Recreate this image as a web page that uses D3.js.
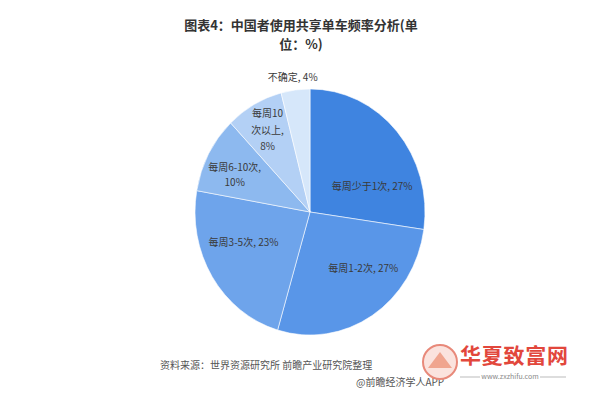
<!DOCTYPE html>
<html><head><meta charset="utf-8">
<script src="https://cdn.jsdelivr.net/npm/d3@7"></script>
<style>body{margin:0;background:#fff}svg{display:block}text{font-family:"Noto Sans CJK SC","Noto Sans",sans-serif}</style>
</head><body>
<svg id="c" width="600" height="400"></svg>
<script>
const categories = ["每周少于1次", "每周1-2次", "每周3-5次", "每周6-10次", "每周10次以上", "不确定"];
const values = [27, 27, 23, 10, 8, 4];
const labelLines = [["每周少于1次, 27%"], ["每周1-2次, 27%"], ["每周3-5次, 23%"], ["每周6-10次,", "10%"], ["每周10", "次以上,", "8%"], ["不确定, 4%"]];
const colors = ["#3f84e0", "#5996e8", "#6ea4eb", "#8db9ef", "#b3d0f5", "#d6e7fa"];
const titleLines = ["图表4：中国者使用共享单车频率分析(单", "位：%)"];
const sourceText = "资料来源：世界资源研究所 前瞻产业研究院整理";
const creditText = "@前瞻经济学人APP";

// layout (fraction along slice, radius fraction)
const labelLayout = [[0.70, 0.58], [0.37, 0.65], [0.6, 0.63], [0.4, 0.72], [0.5, 0.76], [0.46, 1.1]];

const svg = d3.select("#c");
const cx = 310, cy = 212, r = 115, sy = 1.07;

svg.append("g").selectAll("text").data(titleLines).join("text")
  .attr("x", 301).attr("y", (d, i) => 30 + i * 18.5)
  .attr("text-anchor", "middle").attr("font-size", 13).attr("font-weight", "bold")
  .attr("fill", "#333").text(d => d);

const pie = d3.pie().sort(null).value(d => d)(values);
const arc = d3.arc().innerRadius(0).outerRadius(r);

const g = svg.append("g").attr("transform", `translate(${cx},${cy}) scale(1,${sy})`);
g.selectAll("path").data(pie).join("path")
  .attr("d", arc).attr("fill", (d, i) => colors[i])
  .attr("stroke", "#fff").attr("stroke-width", 0.7).attr("stroke-opacity", 0.8);

const lg = svg.append("g").attr("transform", `translate(${cx},${cy})`);
pie.forEach((d, i) => {
  const [f, rf] = labelLayout[i];
  const a = d.startAngle + (d.endAngle - d.startAngle) * f;
  const x = Math.sin(a) * r * rf, y = -Math.cos(a) * r * rf * sy;
  const lines = labelLines[i];
  const lh = lines.length > 2 ? 16.5 : 15;
  lg.append("text").attr("text-anchor", "middle").attr("font-size", 10).attr("fill", "#3a3a3a")
    .selectAll("tspan").data(lines).join("tspan")
    .attr("x", x).attr("y", (t, j) => y + (j - (lines.length - 1) / 2) * lh)
    .attr("dy", "0.35em").text(t => t);
});

svg.append("text").attr("x", 160).attr("y", 365).attr("dy", "0.35em")
  .attr("font-size", 10).attr("fill", "#555").text(sourceText);
svg.append("text").attr("x", 356).attr("y", 382).attr("dy", "0.35em")
  .attr("font-size", 10).attr("fill", "#555").text(creditText);

// watermark logo
const wm = svg.append("g");
wm.append("circle").attr("cx", 440).attr("cy", 362).attr("r", 17).attr("fill", "#fbe3de").attr("stroke", "#e8897a").attr("stroke-width", 2);
wm.append("path").attr("d", "M428,368 L440,352 L452,368 Z").attr("fill", "#f0a58f");
wm.append("text").attr("x", 460).attr("y", 356).attr("dy", "0.35em").attr("font-size", 21)
  .attr("font-weight", "bold").attr("fill", "#e2473c").attr("textLength", 108).text("华夏致富网");
wm.append("line").attr("x1", 460).attr("x2", 480).attr("y1", 377).attr("y2", 377).attr("stroke", "#bbb");
wm.append("line").attr("x1", 540).attr("x2", 566).attr("y1", 377).attr("y2", 377).attr("stroke", "#bbb");
wm.append("text").attr("x", 510).attr("y", 377).attr("dy", "0.35em").attr("text-anchor", "middle")
  .attr("font-size", 7).attr("fill", "#888").text("www.zxzhifu.com");
</script>
</body></html>
